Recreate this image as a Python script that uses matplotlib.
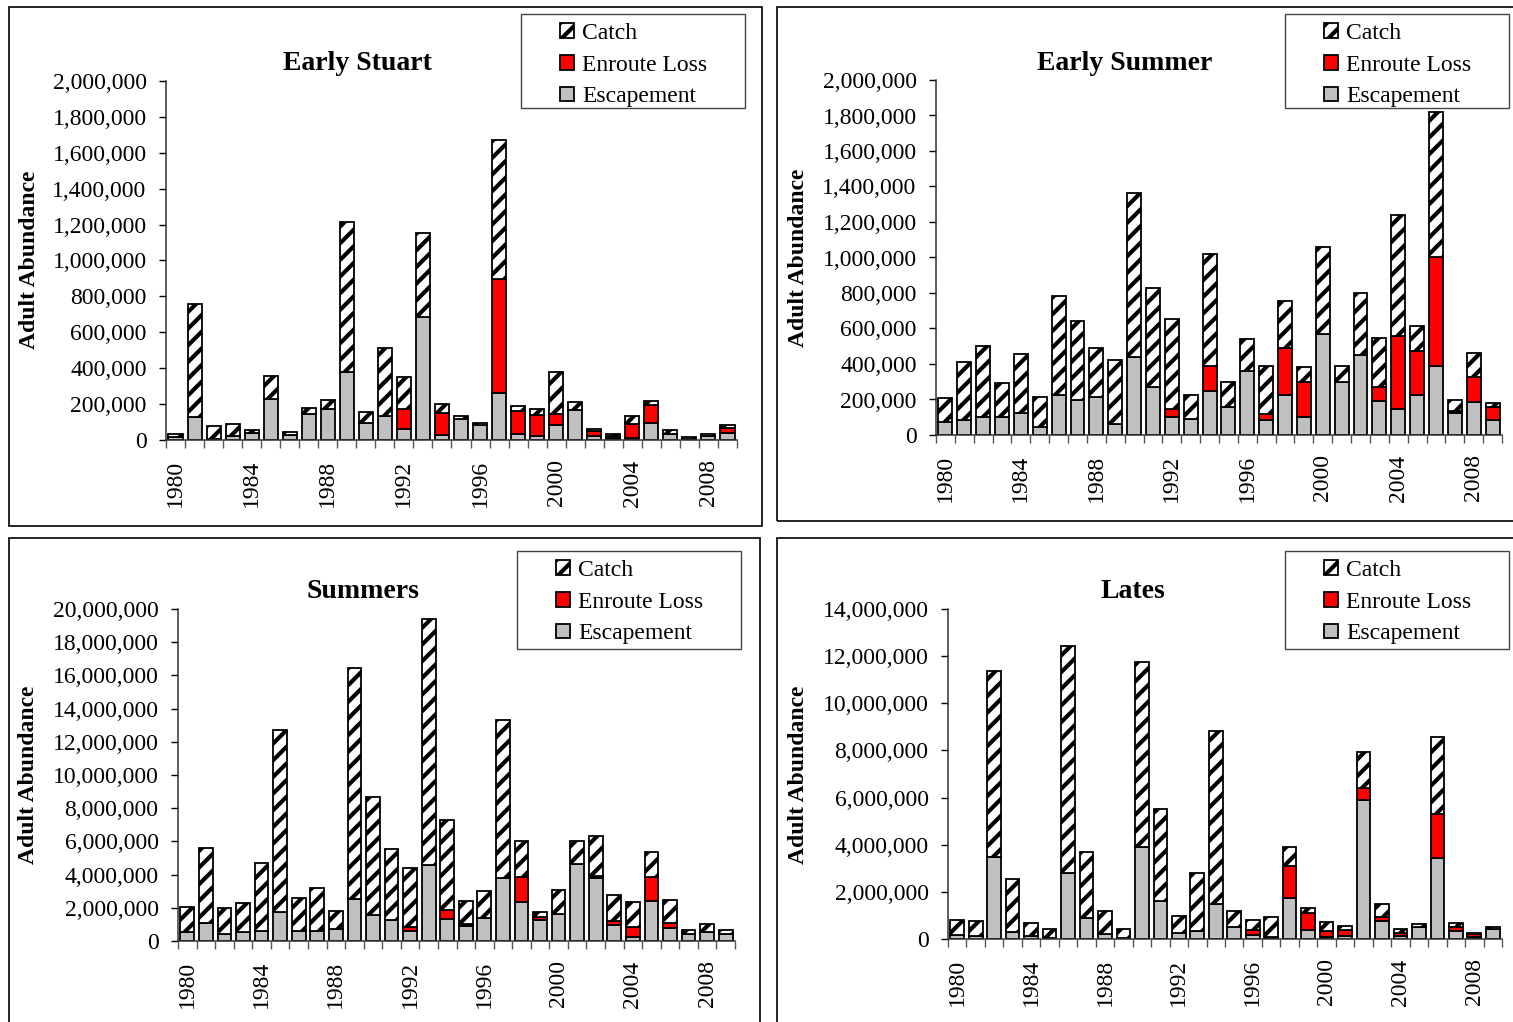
import matplotlib
matplotlib.use("Agg")
import matplotlib.pyplot as plt
from matplotlib.patches import Rectangle, Patch
from matplotlib.ticker import FuncFormatter
import numpy as np

plt.rcParams['font.family'] = ['Liberation Serif', 'DejaVu Serif']
plt.rcParams['hatch.linewidth'] = 3.0

years = list(range(1980, 2010))

# Early Stuart (thousands of fish)
es_escapement = [15, 126, 4, 22, 41, 230, 26, 145, 175, 379, 93, 136, 61, 685, 30,
                 119, 82, 262, 32, 22, 85, 167, 22, 10, 10, 96, 32, 8, 25, 41]
es_enroute = [0, 0, 0, 0, 0, 0, 0, 0, 0, 0, 0, 0, 113, 0, 122,
              0, 0, 633, 130, 117, 62, 0, 28, 12, 81, 99, 0, 0, 0, 28]
es_catch = [18, 632, 76, 69, 15, 127, 19, 35, 46, 834, 61, 377, 177, 466, 50,
            16, 13, 776, 27, 32, 232, 46, 13, 10, 44, 24, 24, 7, 8, 15]

# Early Summer (thousands of fish)
esu_escapement = [73, 84, 99, 103, 122, 45, 225, 199, 216, 60, 439, 268, 99, 88, 250,
                  160, 361, 85, 225, 103, 571, 297, 452, 192, 148, 224, 390, 122, 186, 85]
esu_enroute = [0, 0, 0, 0, 0, 0, 0, 0, 0, 0, 0, 0, 49, 0, 140,
               0, 0, 33, 263, 196, 0, 0, 0, 77, 410, 249, 615, 15, 139, 75]
esu_catch = [135, 329, 400, 192, 334, 171, 558, 445, 274, 363, 924, 560, 505, 135, 630,
             140, 178, 271, 265, 86, 486, 93, 350, 279, 681, 143, 813, 58, 135, 20]

# Summers (millions of fish)
su_escapement = [0.54, 1.07, 0.40, 0.52, 0.62, 1.75, 0.58, 0.62, 0.74, 2.55, 1.59, 1.25, 0.62, 4.60, 1.33,
                 0.88, 1.37, 3.80, 2.37, 1.24, 1.61, 4.64, 3.78, 0.96, 0.26, 2.43, 0.78, 0.42, 0.56, 0.42]
su_enroute = [0, 0, 0, 0, 0, 0, 0, 0, 0, 0, 0, 0, 0.24, 0, 0.52,
              0.12, 0, 0, 1.49, 0.20, 0, 0, 0.14, 0.26, 0.60, 1.41, 0.32, 0.02, 0, 0]
su_catch = [1.49, 4.54, 1.59, 1.77, 4.10, 10.95, 2.01, 2.56, 1.05, 13.87, 7.09, 4.30, 3.54, 14.80, 5.41,
            1.39, 1.64, 9.53, 2.14, 0.32, 1.44, 1.36, 2.41, 1.57, 1.49, 1.52, 1.39, 0.22, 0.44, 0.22]

# Lates (millions of fish)
la_escapement = [0.18, 0.11, 3.49, 0.31, 0.11, 0.04, 2.81, 0.89, 0.23, 0.04, 3.89, 1.61, 0.25, 0.34, 1.49,
                 0.51, 0.18, 0.10, 1.74, 0.40, 0.10, 0.14, 5.90, 0.75, 0.13, 0.50, 3.42, 0.33, 0.07, 0.41]
la_enroute = [0, 0, 0, 0, 0, 0, 0, 0, 0, 0, 0, 0, 0, 0, 0,
              0, 0.22, 0, 1.36, 0.72, 0.24, 0.26, 0.49, 0.20, 0.14, 0, 1.88, 0.18, 0.13, 0]
la_catch = [0.64, 0.67, 7.90, 2.25, 0.55, 0.38, 9.64, 2.79, 0.97, 0.38, 7.88, 3.89, 0.73, 2.47, 7.35,
            0.66, 0.42, 0.85, 0.82, 0.20, 0.37, 0.14, 1.54, 0.55, 0.17, 0.14, 3.27, 0.17, 0.07, 0.11]

series_labels = ["Catch", "Enroute Loss", "Escapement"]
titles = ["Early Stuart", "Early Summer", "Summers", "Lates"]
ylabel = "Adult Abundance"

W, H = 1513, 1022
fig = plt.figure(figsize=(W / 100, H / 100), dpi=100)


def fx(px):
    return px / W


def fy(py):
    return 1 - py / H


panels = [
    dict(esc=es_escapement, enr=es_enroute, cat=es_catch, scale=1e3, ymax=2_000_000, ystep=200_000,
         ax=(166, 737, 81, 440), frame=(9, 762, 7, 526), title=(357, 63), ylab=(30, 260),
         leg=(521, 745, 14, 108)),
    dict(esc=esu_escapement, enr=esu_enroute, cat=esu_catch, scale=1e3, ymax=2_000_000, ystep=200_000,
         ax=(936, 1502, 80, 435), frame=(777, 1530, 7, 521), title=(1125, 63), ylab=(798, 258),
         leg=(1285, 1509, 14, 108)),
    dict(esc=su_escapement, enr=su_enroute, cat=su_catch, scale=1e6, ymax=20_000_000, ystep=2_000_000,
         ax=(178, 735, 609, 941), frame=(9, 760, 538, 1040), title=(363, 592), ylab=(28, 775),
         leg=(517, 741, 551, 649)),
    dict(esc=la_escapement, enr=la_enroute, cat=la_catch, scale=1e6, ymax=14_000_000, ystep=2_000_000,
         ax=(948, 1502, 609, 939), frame=(777, 1530, 538, 1040), title=(1133, 592), ylab=(798, 775),
         leg=(1285, 1509, 551, 649)),
]

fmt = FuncFormatter(lambda v, p: f"{int(round(v)):,}")
TICK_FS = 17

for i, p in enumerate(panels):
    fl, fr, ft, fb = p['frame']
    fig.patches.append(Rectangle((fx(fl), fy(fb)), fx(fr) - fx(fl), fy(ft) - fy(fb),
                                 transform=fig.transFigure, fill=False, edgecolor='black',
                                 linewidth=1.2, zorder=0))
    l, r, t, b = p['ax']
    ax = fig.add_axes([fx(l), fy(b), fx(r) - fx(l), fy(t) - fy(b)])
    ax.patch.set_alpha(0)
    esc = np.array(p['esc']) * p['scale']
    enr = np.array(p['enr']) * p['scale']
    cat = np.array(p['cat']) * p['scale']
    x = np.array(years)
    bw = 0.74
    ax.bar(x, esc, width=bw, color='#C0C0C0', edgecolor='black', linewidth=1.3, zorder=2)
    ax.bar(x, enr, width=bw, bottom=esc, color='#FF0000', edgecolor='black', linewidth=1.3, zorder=2)
    ax.bar(x, cat, width=bw, bottom=esc + enr, color='white', edgecolor='black', linewidth=1.3,
           hatch='//', zorder=2)
    ax.set_xlim(1979.5, 2009.5)
    ax.set_ylim(0, p['ymax'])
    ax.set_yticks(np.arange(0, p['ymax'] + 1, p['ystep']))
    ax.yaxis.set_major_formatter(fmt)
    ax.tick_params(axis='y', direction='out', length=5, width=1, pad=9, labelsize=TICK_FS, colors='black')
    ax.set_xticks(np.arange(1979.5, 2010.0, 1.0))
    ax.set_xticklabels([])
    ax.tick_params(axis='x', which='major', direction='out', length=6, width=1, color='#555555')
    lab_years = [y for y in years if (y - 1980) % 4 == 0]
    ax.set_xticks(lab_years, minor=True)
    ax.set_xticklabels([str(y) for y in lab_years], minor=True, rotation=90, fontsize=TICK_FS)
    ax.tick_params(axis='x', which='minor', length=0, pad=14)
    for s in ['top', 'right']:
        ax.spines[s].set_visible(False)
    for s in ['left', 'bottom']:
        ax.spines[s].set_linewidth(1.1)
        ax.spines[s].set_color('#333333')

    tx, ty = p['title']
    fig.text(fx(tx), fy(ty), titles[i], ha='center', va='center', fontsize=20, fontweight='bold')
    lx, ly = p['ylab']
    fig.text(fx(lx), fy(ly), ylabel, ha='center', va='center', rotation=90, fontsize=17,
             fontweight='bold')

    gl, gr, gt, gb = p['leg']
    fig.patches.append(Rectangle((fx(gl), fy(gb)), fx(gr) - fx(gl), fy(gt) - fy(gb),
                                 transform=fig.transFigure, fill=True, facecolor='white',
                                 edgecolor='#444444', linewidth=1.0, zorder=1))
    handles = [Patch(facecolor='white', edgecolor='black', hatch='//', linewidth=1.3),
               Patch(facecolor='#FF0000', edgecolor='black', linewidth=1.3),
               Patch(facecolor='#C0C0C0', edgecolor='black', linewidth=1.3)]
    leg = fig.legend(handles, series_labels, loc='upper left',
                     bbox_to_anchor=(fx(gl + 39), fy(gt + 9)), bbox_transform=fig.transFigure,
                     frameon=False, fontsize=17, handlelength=0.58, handleheight=0.58,
                     handletextpad=0.35, labelspacing=0.45, borderpad=0.0, borderaxespad=0.0)
    leg.set_zorder(5)

fig.savefig("out.png", dpi=100)
